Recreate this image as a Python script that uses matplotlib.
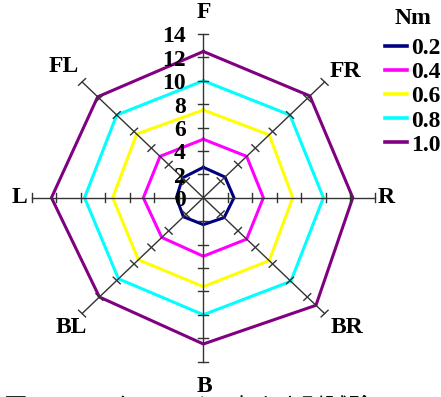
import numpy as np
import matplotlib.pyplot as plt

# directions, clockwise from front
directions = ['F', 'FR', 'R', 'BR', 'B', 'BL', 'L', 'FL']
angles_deg = [90, 45, 0, -45, -90, -135, 180, 135]

torques = ['0.2', '0.4', '0.6', '0.8', '1.0']
colors = ['#000080', '#ff00ff', '#ffff00', '#00ffff', '#800080']

v_02 = [2.6, 2.5, 2.5, 2.4, 2.3, 2.3, 2.2, 2.4]
v_04 = [5.0, 5.0, 4.9, 5.0, 5.0, 4.8, 4.9, 5.0]
v_06 = [7.5, 7.6, 7.3, 7.6, 7.6, 7.5, 7.4, 7.7]
v_08 = [10.0, 10.0, 9.8, 10.1, 10.0, 9.8, 9.7, 10.0]
v_10 = [12.5, 12.3, 12.2, 13.0, 12.5, 12.0, 12.4, 12.2]
series = [v_02, v_04, v_06, v_08, v_10]

r_ticks = [0, 2, 4, 6, 8, 10, 12, 14]
r_max = 14

serif = 'Liberation Serif'
fs = 17

fig = plt.figure(figsize=(4.41, 3.97), dpi=100)
ax = fig.add_axes([0, 0, 1, 1])
ax.set_xlim(-16.6, 19.4)
ax.set_ylim(-17.03, 16.9)
ax.axis('off')

th = np.deg2rad(angles_deg)
ux, uy = np.cos(th), np.sin(th)

# one closed polygon per torque
handles = []
for vals, c, lab in zip(series, colors, torques):
    r = np.array(vals + vals[:1])
    x = r * np.append(ux, ux[0])
    y = r * np.append(uy, uy[0])
    h, = ax.plot(x, y, color=c, lw=2.2, zorder=2, label=lab)
    handles.append(h)

# spokes with tick marks and end caps
tick_half = 0.4
for cx, cy in zip(ux, uy):
    ax.plot([0, r_max * cx], [0, r_max * cy], color='#333333', lw=1.0, zorder=3)
    px, py = -cy, cx
    for t in r_ticks[1:]:
        bx, by = t * cx, t * cy
        ax.plot([bx - tick_half * px, bx + tick_half * px],
                [by - tick_half * py, by + tick_half * py],
                color='#333333', lw=1.0, zorder=3)

# radial scale labels along the front spoke
for t in r_ticks:
    ax.text(-1.45, t - 0.25, str(t), ha='right', va='center',
            fontsize=fs, fontweight='bold', family=serif, zorder=4)

# direction labels
label_pos = {
    'F': (0.05, 15.8), 'FR': (11.6, 10.8), 'R': (14.9, 0.0), 'BR': (11.7, -11.1),
    'B': (0.05, -16.1), 'BL': (-10.8, -11.1), 'L': (-15.0, 0.0), 'FL': (-11.4, 11.2),
}
for d in directions:
    x, y = label_pos[d]
    ax.text(x, y, d, ha='center', va='center', fontsize=fs,
            fontweight='bold', family=serif)

leg = ax.legend(handles=handles, title='Nm', loc='upper left',
                bbox_to_anchor=(0.865, 0.988), frameon=False, borderaxespad=0,
                borderpad=0.15, handlelength=0.95, handletextpad=0.15,
                labelspacing=0.11,
                prop={'family': serif, 'weight': 'bold', 'size': fs},
                title_fontproperties={'family': serif, 'weight': 'bold', 'size': fs})
leg._legend_box.sep = 6
for lh in leg.get_lines():
    lh.set_linewidth(2.6)

# caption, clipped by the bottom edge
fig.text(0.01, 0.001, '図9　トルクレンジの大きさ別試験', ha='left', va='top',
         fontsize=17, family=['Noto Sans CJK JP', 'DejaVu Sans'])

fig.savefig('out.png', dpi=100)
